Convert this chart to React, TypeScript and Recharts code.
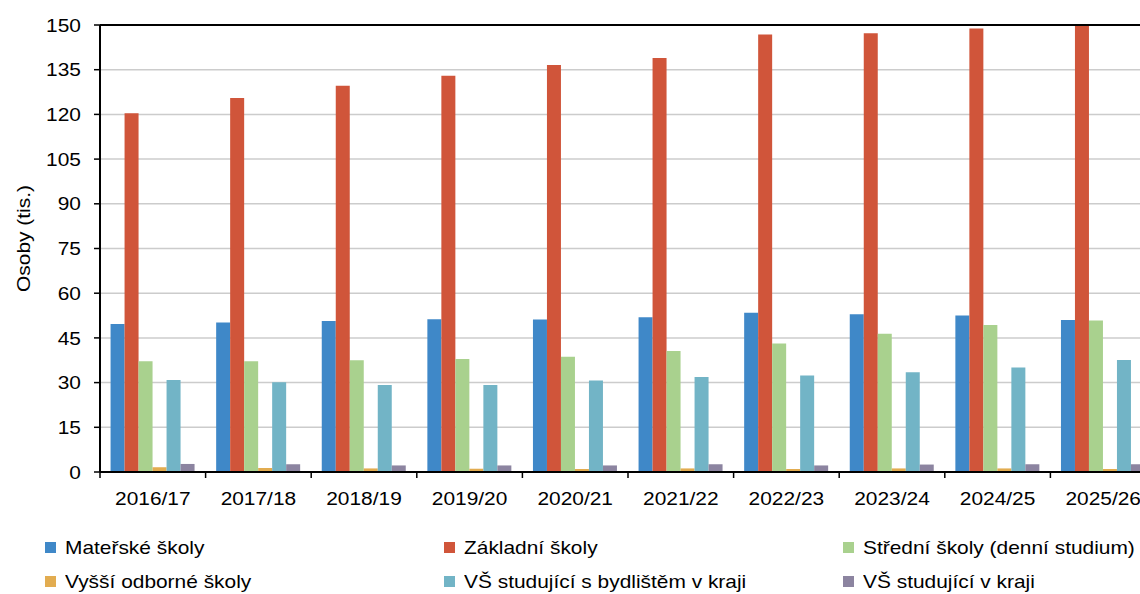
import { Bar, BarChart, CartesianGrid, ReferenceLine, XAxis, YAxis } from "recharts";

const years = ["2016/17", "2017/18", "2018/19", "2019/20", "2020/21", "2021/22", "2022/23", "2023/24", "2024/25", "2025/26"];
const materske = [49.7, 50.2, 50.7, 51.3, 51.2, 51.9, 53.4, 52.9, 52.5, 51.0];
const zakladni = [120.4, 125.5, 129.6, 133.0, 136.6, 138.9, 146.8, 147.2, 148.8, 149.8];
const stredni = [37.2, 37.2, 37.5, 37.9, 38.7, 40.6, 43.1, 46.4, 49.3, 50.8];
const vyssi = [1.6, 1.35, 1.2, 1.1, 1.0, 1.2, 1.0, 1.2, 1.2, 1.0];
const vsBydliste = [30.9, 30.1, 29.2, 29.2, 30.7, 31.9, 32.4, 33.5, 35.1, 37.6];
const vsKraj = [2.7, 2.6, 2.2, 2.2, 2.2, 2.6, 2.2, 2.5, 2.6, 2.6];
const yTicks = [0, 15, 30, 45, 60, 75, 90, 105, 120, 135, 150];

const series = [
  { key: "ms", name: "Mateřské školy", color: "#3f88c8", values: materske },
  { key: "zs", name: "Základní školy", color: "#d0553a", values: zakladni },
  { key: "ss", name: "Střední školy (denní studium)", color: "#a9d18e", values: stredni },
  { key: "vos", name: "Vyšší odborné školy", color: "#e2ac50", values: vyssi },
  { key: "vsb", name: "VŠ studující s bydlištěm v kraji", color: "#72b4c6", values: vsBydliste },
  { key: "vsk", name: "VŠ studující v kraji", color: "#8c84a0", values: vsKraj },
];

const data = years.map((rok, i) => {
  const row: Record<string, string | number> = { rok };
  series.forEach((s) => (row[s.key] = s.values[i]));
  return row;
});

const FONT = '"Liberation Sans", Arial, sans-serif';
const SX = 1.1; // text in the reference is a bit wide
const W = 1160;
const M = { top: 25, right: 4, left: 40, bottom: 0 };
const Y_W = 60;
const BAND = (W - M.left - M.right - Y_W) / years.length;

function XTick({ x, y, payload }: any) {
  const bx = x - BAND / 2;
  return (
    <g>
      <line x1={bx} y1={y} x2={bx} y2={y + 6} stroke="#000" strokeWidth={1.5} />
      <text
        x={x}
        y={y + 33}
        textAnchor="middle"
        fontSize={19}
        fontFamily={FONT}
        fill="#000"
        transform={`translate(${x} 0) scale(${SX} 1) translate(${-x} 0)`}
      >
        {payload.value}
      </text>
    </g>
  );
}

function YTick({ x, y, payload }: any) {
  return (
    <text
      x={x}
      y={y}
      textAnchor="end"
      dominantBaseline="central"
      fontSize={19}
      fontFamily={FONT}
      fill="#000"
      transform={`translate(${x} 0) scale(${SX} 1) translate(${-x} 0)`}
    >
      {payload.value}
    </text>
  );
}

export default function App() {
  return (
    <div style={{ position: "absolute", left: 0, top: 0, width: 1140, height: 594, overflow: "hidden", background: "#fff", fontFamily: FONT }}>
      <BarChart width={W} height={594} data={data} margin={M} barCategoryGap="10%" barGap={0}>
        <CartesianGrid vertical={false} stroke="#cccccc" strokeWidth={1.5} />
        <XAxis
          dataKey="rok"
          height={122}
          tick={<XTick />}
          tickLine={false}
          tickSize={0}
          tickMargin={0}
          axisLine={{ stroke: "#000", strokeWidth: 2 }}
          interval={0}
        />
        <YAxis
          width={Y_W}
          domain={[0, 150]}
          ticks={yTicks}
          interval={0}
          tick={<YTick />}
          tickSize={6}
          tickMargin={13}
          tickLine={{ stroke: "#000", strokeWidth: 1.5 }}
          axisLine={{ stroke: "#000", strokeWidth: 2 }}
          label={{
            content: ({ viewBox }: any) => {
              const lx = viewBox.x - 17;
              const ly = viewBox.y + viewBox.height / 2 - 10;
              return (
                <text
                  x={lx}
                  y={ly}
                  transform={`rotate(-90 ${lx} ${ly}) translate(${lx} 0) scale(${SX} 1) translate(${-lx} 0)`}
                  textAnchor="middle"
                  dominantBaseline="central"
                  fontSize={19}
                  fontFamily={FONT}
                  fill="#000"
                >
                  Osoby (tis.)
                </text>
              );
            },
          }}
        />
        <ReferenceLine y={150} stroke="#000" strokeWidth={2} />
        {series.map((s) => (
          <Bar key={s.key} dataKey={s.key} name={s.name} fill={s.color} isAnimationActive={false} />
        ))}
      </BarChart>
      <div
        style={{
          position: "absolute",
          left: 45,
          top: 536,
          display: "grid",
          gridTemplateColumns: "399px 399px 399px",
          rowGap: 11,
          fontSize: 19,
          lineHeight: "23px",
          color: "#000",
          whiteSpace: "nowrap",
        }}
      >
        {series.map((s) => (
          <div key={s.key} style={{ display: "flex", alignItems: "center" }}>
            <span style={{ width: 11, height: 11, background: s.color, marginRight: 9, flex: "none" }} />
            <span style={{ display: "inline-block", transform: `scaleX(${SX})`, transformOrigin: "left center" }}>{s.name}</span>
          </div>
        ))}
      </div>
    </div>
  );
}
